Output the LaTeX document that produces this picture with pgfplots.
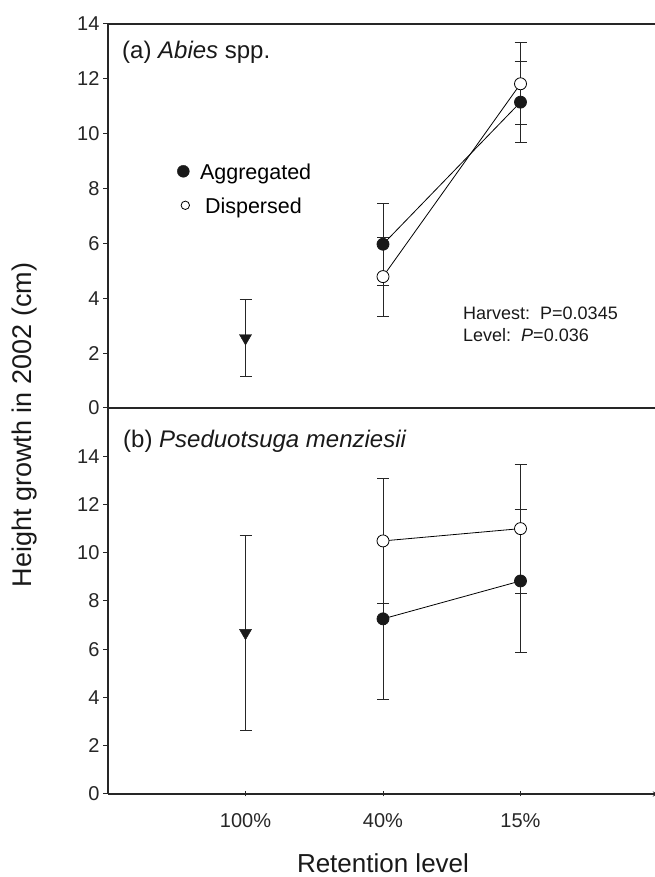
\documentclass[border=0pt]{standalone}
\usepackage{pgfplots}
\pgfplotsset{compat=1.18}
\usepackage{fontspec}
\setmainfont{Liberation Sans}

\begin{document}
\begin{tikzpicture}[x=1bp,y=1bp]
\useasboundingbox (0,0) rectangle (655,877);
\pgfplotsset{
  panel/.style={
    scale only axis, width=550bp, xmin=0, xmax=4, ymin=0,
    axis y line=left,
    axis line style={-, line width=1.3bp, black!85},
    tick align=outside, major tick length=5bp,
    tick style={line width=1bp, black!85},
    ytick={0,2,...,14},
    tick label style={font=\fontsize{20bp}{22bp}\selectfont, black!85},
    /pgf/number format/assume math mode=true,
  },
  ebar/.style={error bars/y dir=both, error bars/y explicit,
    error bars/error bar style={line width=1bp, black!85},
    error bars/error mark options={rotate=90, mark size=6bp, line width=1bp, black!85}},
  filled/.style={black, line width=0.8bp, mark=*, mark size=6bp, mark options={fill=black!90, draw=black!90}, ebar},
  open/.style={black, line width=0.8bp, mark=*, mark size=6bp, mark options={fill=white, draw=black}, ebar},
  ctrl/.style={black, only marks, mark=triangle*, mark size=7bp, mark options={rotate=180, fill=black!90, draw=black!90}, ebar},
}

% ---------- top panel (a) ----------
\begin{axis}[panel,
  at={(108bp,469bp)}, anchor=south west, height=384bp,
  axis x line=box, xtick=\empty, ymax=14,
  legend image code/.code={\draw[#1] plot coordinates {(0bp,3bp)}; \path[draw=none, fill=none] (-7bp,-7bp) rectangle (7bp,11bp);},
  legend style={at={(axis description cs:0.1242,0.6372)}, anchor=north west, draw=none, fill=none,
    font=\fontsize{21.5bp}{24bp}\selectfont, row sep=13bp, inner sep=0pt, outer sep=0pt,
    nodes={inner sep=0pt, text height=15.5bp, text depth=4.5bp},
    /tikz/every odd column/.append style={column sep=9.7bp}},
  legend cell align=left,
]
\addplot[forget plot, ctrl] coordinates {(1,2.55) +- (0,1.42)};
\addplot[forget plot, filled] coordinates {(2,5.97) +- (0,1.50) (3,11.15) +- (0,1.47)};
\addplot[forget plot, open] coordinates {(2,4.79) +- (0,1.44) (3,11.82) +- (0,1.50)};
\addlegendimage{mark=*, mark size=6bp, mark options={fill=black!90, draw=black!90}}
\addlegendentry{Aggregated}
\addlegendimage{mark=*, mark size=4.2bp, mark options={fill=white, draw=black, line width=0.8bp, xshift=2bp}}
\addlegendentry{\hspace*{5bp}Dispersed}
\end{axis}

% ---------- bottom panel (b) ----------
\begin{axis}[panel,
  at={(108bp,83bp)}, anchor=south west, height=386bp,
  axis x line=bottom, ymax=16,
  xtick={1,2,3}, xticklabels={100\%,40\%,15\%},
  xticklabel style={yshift=-14bp},
]
\addplot[ctrl] coordinates {(1,6.68) +- (0,4.05)};
\addplot[filled] coordinates {(2,7.26) +- (0,3.35) (3,8.83) +- (0,2.96)};
\addplot[open] coordinates {(2,10.49) +- (0,2.60) (3,11.00) +- (0,2.67)};
\end{axis}

% ---------- texts ----------
\node[anchor=base west, inner sep=0pt, font=\fontsize{24bp}{28bp}\selectfont, black!90]
  at (122,818) {(a) \textit{Abies} spp.};
\node[anchor=base west, inner sep=0pt, font=\fontsize{24bp}{28bp}\selectfont, black!90]
  at (123,429.5) {(b) \textit{Pseduotsuga menziesii}};
\node[anchor=base west, inner sep=0pt, font=\fontsize{18bp}{20bp}\selectfont, black!90]
  at (463,557) {Harvest:\ \ P=0.0345};
\node[anchor=base west, inner sep=0pt, font=\fontsize{18bp}{20bp}\selectfont, black!90]
  at (463,535.3) {Level:\ \ \textit{P}=0.036};
\node[rotate=90, inner sep=0pt, font=\fontsize{27bp}{30bp}\selectfont, black!90]
  at (25,452) {Height growth in 2002 (cm)};
\node[anchor=base, inner sep=0pt, font=\fontsize{26bp}{30bp}\selectfont, black!90]
  at (383,4) {Retention level};
\end{tikzpicture}
\end{document}
